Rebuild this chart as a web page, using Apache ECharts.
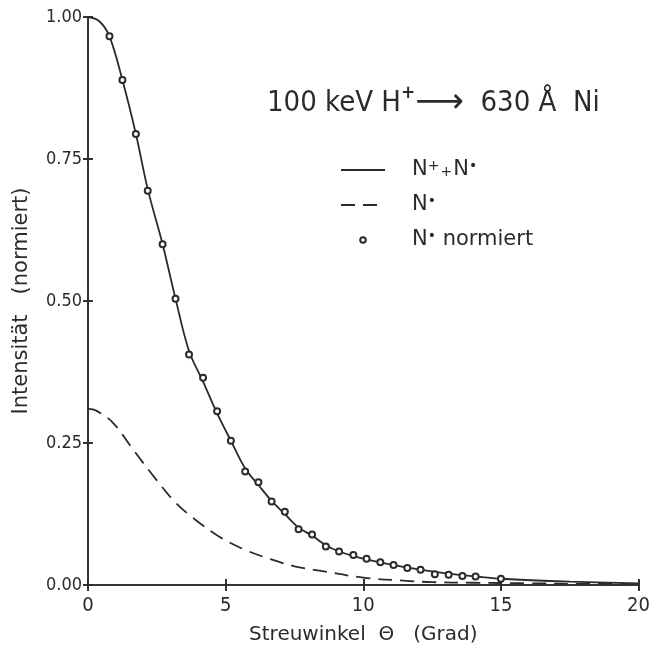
<!DOCTYPE html>
<html>
<head>
<meta charset="utf-8">
<script src="https://cdn.jsdelivr.net/npm/echarts@6/dist/echarts.min.js"></script>
<style>
html,body{margin:0;padding:0;background:#fff;}
#chart{width:653px;height:650px;}
</style>
</head>
<body>
<div id="chart"></div>
<script>
// ---- data ----
// solid curve N+ + N0 (total)
var totalX = [0, 0.4, 0.78, 1.25, 1.74, 2.17, 2.71, 3.18, 3.67, 4.18, 4.69, 5.19, 5.71, 6.19, 6.67, 7.15, 7.65, 8.14, 8.64, 9.12, 9.64, 10.12, 11.1, 12.08, 13.1, 14.08, 15, 17.5, 20];
var totalY = [1.0, 0.993, 0.966, 0.889, 0.794, 0.697, 0.600, 0.504, 0.412, 0.358, 0.302, 0.254, 0.205, 0.176, 0.148, 0.125, 0.101, 0.087, 0.070, 0.059, 0.051, 0.045, 0.035, 0.027, 0.020, 0.015, 0.011, 0.006, 0.003];
// dashed curve N0
var neutralX = [0, 0.3, 0.9, 1.63, 2.47, 3.18, 3.9, 4.74, 5.7, 6.66, 7.5, 8.46, 10.0, 11.7, 12.5, 14, 16, 18, 20];
var neutralY = [0.31, 0.307, 0.286, 0.239, 0.186, 0.145, 0.115, 0.086, 0.062, 0.045, 0.033, 0.025, 0.013, 0.007, 0.005, 0.004, 0.003, 0.002, 0.002];
// circles: N0 normalised
var normX = [0.78, 1.25, 1.74, 2.17, 2.71, 3.18, 3.67, 4.18, 4.69, 5.19, 5.71, 6.19, 6.67, 7.15, 7.65, 8.14, 8.64, 9.12, 9.64, 10.12, 10.62, 11.1, 11.6, 12.08, 12.6, 13.1, 13.6, 14.08, 15.0];
var normY = [0.966, 0.889, 0.794, 0.694, 0.600, 0.504, 0.406, 0.365, 0.306, 0.254, 0.200, 0.181, 0.147, 0.129, 0.098, 0.089, 0.068, 0.059, 0.053, 0.046, 0.040, 0.035, 0.030, 0.027, 0.019, 0.018, 0.016, 0.015, 0.011];

var xTicks = [0, 5, 10, 15, 20];
var yTicks = ['0.00', '0.25', '0.50', '0.75', '1.00'];
var seriesNames = ['N⁺+N°', 'N°', 'N° normiert'];
var xTitle = 'Streuwinkel  Θ   (Grad)';
var yTitle = 'Intensität   (normiert)';

function zip(a, b) { return a.map(function (v, i) { return [v, b[i]]; }); }

var INK = '#2b2b2b';
var FONT = "'DejaVu Sans Condensed', 'Liberation Sans Narrow', 'DejaVu Sans', sans-serif";
var FONT2 = "'DejaVu Sans', sans-serif";

function xAx(pos, inside, labels) {
  return {
    type: 'value', min: 0, max: 20, interval: 5, position: pos, gridIndex: 0,
    axisLine: { show: !inside, lineStyle: { color: INK, width: 1.6 } },
    axisTick: { show: true, inside: inside, length: 6, lineStyle: { color: INK, width: 1.6 } },
    axisLabel: { show: labels, color: INK, fontSize: 20, fontFamily: FONT, margin: 11 },
    splitLine: { show: false },
    name: labels ? xTitle : '', nameLocation: 'middle', nameGap: 40,
    nameTextStyle: { color: INK, fontSize: 20, fontFamily: FONT2 }
  };
}
function yAx(pos, inside, labels) {
  return {
    type: 'value', min: 0, max: 1, interval: 0.25, position: pos, gridIndex: 0,
    axisLine: { show: !inside, lineStyle: { color: INK, width: 1.6 } },
    axisTick: { show: true, inside: inside, length: 5, lineStyle: { color: INK, width: 1.6 } },
    axisLabel: { show: labels, color: INK, fontSize: 18, fontFamily: FONT, margin: 6,
      formatter: function (v) { return yTicks[Math.round(v / 0.25)]; } },
    splitLine: { show: false },
    name: labels ? yTitle : '', nameLocation: 'middle', nameGap: 56,
    nameTextStyle: { color: INK, fontSize: 21, fontFamily: FONT2 }
  };
}

var legendRich = {
  g: { width: 22 },
  n: { fontSize: 21, fontFamily: FONT2, color: INK, lineHeight: 22 },
  sup: { fontSize: 14, fontFamily: FONT2, color: INK, verticalAlign: 'top', lineHeight: 12 },
  mid: { fontSize: 14, fontFamily: FONT2, color: INK, padding: [5, 1, 0, 1] }
};
var legendText = {};
legendText[seriesNames[0]] = '{g|}{n|N}{sup|+}{mid|+}{n|N}{sup|•}';
legendText[seriesNames[1]] = '{g|}{n|N}{sup|•}';
legendText[seriesNames[2]] = '{g|}{n|N}{sup|•}{n| normiert}';

var hidden = { color: 'rgba(0,0,0,0)', borderColor: 'rgba(0,0,0,0)', borderWidth: 0 };

var chart = echarts.init(document.getElementById('chart'), null, { renderer: 'canvas' });
chart.setOption({
  backgroundColor: '#ffffff',
  animation: false,
  title: {
    left: 262, top: 80,
    text: '{t|100 keV H}{sup|+}{arr|⟶}{t|  630 Å  Ni}',
    textStyle: {
      fontWeight: 'normal',
      rich: {
        t: { fontSize: 29, fontFamily: FONT, fontWeight: 'normal', color: INK, lineHeight: 36 },
        sup: { fontSize: 17, fontFamily: FONT2, fontWeight: 'bold', color: INK, verticalAlign: 'top', lineHeight: 16 },
        arr: { fontSize: 34, fontFamily: FONT2, fontWeight: 'normal', color: INK, lineHeight: 36 }
      }
    }
  },
  legend: {
    orient: 'vertical', left: 335, top: 154,
    itemWidth: 44, itemHeight: 7, itemGap: 13,
    data: [
      { name: seriesNames[0], itemStyle: hidden },
      { name: seriesNames[1], itemStyle: hidden },
      { name: seriesNames[2] }
    ],
    formatter: function (name) { return legendText[name]; },
    textStyle: { rich: legendRich, color: INK, lineHeight: 22 },
    selectedMode: false
  },
  grid: { left: 88, right: 8, top: 17, bottom: 65, containLabel: false },
  xAxis: [xAx('bottom', false, true), xAx('bottom', true, false), xAx('top', false, false), xAx('top', true, false)],
  yAxis: [yAx('left', false, true), yAx('left', true, false), yAx('right', false, false), yAx('right', true, false)],
  series: [
    {
      name: seriesNames[0], type: 'line', xAxisIndex: 0, yAxisIndex: 0,
      data: zip(totalX, totalY), smooth: 0.35, symbol: 'none',
      lineStyle: { color: INK, width: 1.8 }, itemStyle: { color: INK }
    },
    {
      name: seriesNames[1], type: 'line', xAxisIndex: 0, yAxisIndex: 0,
      data: zip(neutralX, neutralY), smooth: 0.35, symbol: 'none',
      lineStyle: { color: INK, width: 1.8, type: [14, 8] }, itemStyle: { color: INK }
    },
    {
      name: seriesNames[2], type: 'line', xAxisIndex: 0, yAxisIndex: 0,
      data: zip(normX, normY), symbol: 'emptyCircle', symbolSize: 6, showSymbol: true,
      lineStyle: { width: 0, opacity: 0 },
      itemStyle: { color: INK, borderColor: INK, borderWidth: 1.5 },
      z: 5
    }
  ]
});
</script>
</body>
</html>
